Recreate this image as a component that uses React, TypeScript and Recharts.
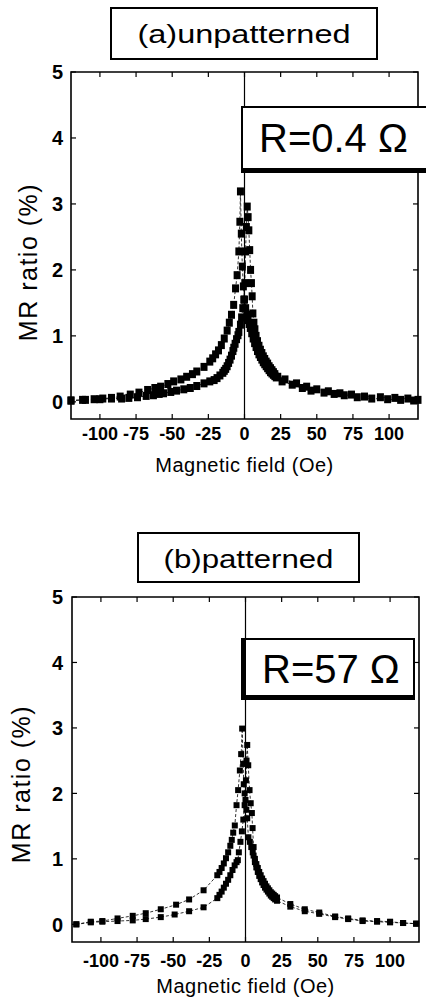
import { ScatterChart, Scatter, XAxis, YAxis, ReferenceLine, ReferenceArea } from "recharts";

const FONT = '"Liberation Sans", Arial, Helvetica, sans-serif';

// field ticks (Oe) and MR ticks (%)
const X_TICKS = [-100, -75, -50, -25, 0, 25, 50, 75, 100];
const Y_TICKS = [0, 1, 2, 3, 4, 5];

// (a) unpatterned, sweep peaking at negative field (upper branch on the left)
const A1_H = [-120, -112, -104, -98, -92, -86, -79, -73, -67, -62, -58, -53, -49, -44, -40, -36, -33, -28, -24, -22, -20, -18, -16, -14, -12, -10.5, -9, -7.5, -6.2, -5.1, -3.9, -3.2, -2.8, -2.2, -1.5, -0.8, 0, 0.8, 1.6, 2.4, 3.2, 4, 5, 6, 7, 8, 9, 10, 11, 12, 13, 14, 15, 16, 17, 18, 19, 20, 21, 22, 26, 33, 40, 46, 55, 62, 69, 78, 88, 99, 108, 117];
const A1_MR = [0.02, 0.03, 0.04, 0.05, 0.06, 0.08, 0.11, 0.14, 0.18, 0.21, 0.23, 0.27, 0.31, 0.34, 0.38, 0.42, 0.46, 0.53, 0.61, 0.66, 0.72, 0.78, 0.86, 0.96, 1.08, 1.2, 1.32, 1.47, 1.72, 1.92, 2.28, 2.73, 3.19, 2.55, 2.05, 1.75, 1.55, 1.42, 1.32, 1.24, 1.18, 1.12, 1.04, 0.96, 0.89, 0.83, 0.77, 0.72, 0.68, 0.64, 0.6, 0.57, 0.54, 0.51, 0.48, 0.45, 0.43, 0.41, 0.39, 0.37, 0.31, 0.26, 0.21, 0.17, 0.14, 0.12, 0.1, 0.07, 0.05, 0.04, 0.03, 0.02];

// (a) sweep peaking at positive field (lower branch on the left)
const A2_H = [-120, -110, -100, -92, -85, -80, -74, -68, -63, -59, -56, -51, -47, -42, -37.5, -33, -28, -24, -21, -19, -17, -15, -14, -13, -12, -11, -10, -9, -8, -7.4, -6.5, -5.5, -4.5, -3.9, -2.8, -2, -1.2, -0.5, 0.2, 0.7, 1.3, 1.9, 2.5, 3, 3.6, 4.2, 4.8, 5.3, 5.8, 6.5, 7.2, 8, 9, 10, 11, 12, 13, 14, 15, 16, 17, 18, 19, 20, 21, 23, 28, 36, 43, 50, 58, 66, 74, 83, 94, 104, 113, 120];
const A2_MR = [0.02, 0.03, 0.04, 0.05, 0.05, 0.06, 0.07, 0.09, 0.1, 0.12, 0.13, 0.15, 0.17, 0.19, 0.21, 0.24, 0.28, 0.31, 0.33, 0.36, 0.4, 0.44, 0.47, 0.5, 0.54, 0.59, 0.64, 0.7, 0.77, 0.82, 0.88, 0.95, 1.01, 1.06, 1.17, 1.28, 1.42, 1.55, 1.8, 2.28, 2.65, 2.96, 2.8, 2.6, 2.3, 2.0, 1.8, 1.6, 1.34, 1.2, 1.1, 1.0, 0.92, 0.85, 0.79, 0.74, 0.69, 0.65, 0.61, 0.58, 0.54, 0.51, 0.48, 0.45, 0.42, 0.38, 0.34, 0.28, 0.23, 0.19, 0.16, 0.13, 0.11, 0.08, 0.07, 0.06, 0.05, 0.03];

// (b) patterned
const B1_H = [-117, -107, -99, -88.5, -78, -69, -58.6, -48, -39, -29, -19.5, -18, -16.5, -15, -13.5, -12, -10.5, -9.5, -8.5, -7.4, -6.2, -5.1, -3.9, -3, -2.3, -1.6, -1.2, -0.6, 0, 0.6, 1.2, 2, 3, 4, 5, 5.6, 6.5, 7.5, 8.5, 9.5, 10.5, 11.5, 12.5, 13.5, 14.5, 15.5, 16.5, 17.5, 18.5, 19.5, 20.5, 21.8, 31, 41, 51, 62, 71, 81, 91, 100, 109, 118];
const B1_MR = [0.0, 0.04, 0.05, 0.09, 0.13, 0.17, 0.23, 0.3, 0.38, 0.52, 0.75, 0.8, 0.86, 0.93, 1.01, 1.1, 1.2, 1.29, 1.4, 1.51, 1.82, 2.05, 2.35, 2.6, 2.99, 2.45, 2.14, 2.0, 1.9, 1.75, 1.62, 1.33, 1.26, 1.18, 1.1, 1.05, 0.95, 0.87, 0.8, 0.74, 0.69, 0.64, 0.6, 0.56, 0.53, 0.5, 0.47, 0.44, 0.42, 0.4, 0.38, 0.36, 0.27, 0.2, 0.16, 0.11, 0.08, 0.05, 0.04, 0.03, 0.02, 0.01];

const B2_H = [-117, -107, -99, -88.5, -78, -69, -58.6, -49, -39, -29, -19.5, -18, -16.5, -15, -13.5, -12, -10.5, -9, -7.5, -6.2, -5.3, -4.6, -3.5, -2.5, -1.5, -0.6, 0.3, 0.7, 1.2, 1.9, 2.8, 3.6, 4.4, 4.9, 5.6, 6.5, 7.5, 8.5, 9.5, 10.5, 11.5, 12.5, 13.5, 14.5, 15.5, 16.5, 17.5, 18.5, 19.5, 20.5, 21.8, 31, 41, 51, 62, 71, 81, 91, 100, 109, 118];
const B2_MR = [0.0, 0.03, 0.04, 0.05, 0.06, 0.08, 0.11, 0.15, 0.2, 0.26, 0.4, 0.45, 0.5, 0.56, 0.62, 0.68, 0.75, 0.83, 0.9, 0.95, 0.98, 1.1, 1.26, 1.42, 1.6, 1.82, 2.2, 2.5, 2.74, 2.43, 2.05, 1.85, 1.7, 1.47, 1.18, 1.0, 0.92, 0.86, 0.8, 0.75, 0.7, 0.66, 0.62, 0.58, 0.55, 0.52, 0.49, 0.47, 0.45, 0.43, 0.41, 0.31, 0.23, 0.18, 0.12, 0.09, 0.06, 0.05, 0.04, 0.02, 0.01];

const zip = (h: number[], mr: number[]) => h.map((x, i) => ({ x, y: mr[i] }));

const lineStyle = { stroke: "#000", strokeWidth: 0.8, strokeDasharray: "3 2" };
const TICK_LEN = 5;

interface PanelProps {
  top: number;
  height: number;
  margin: { top: number; right: number; bottom: number; left: number };
  yAxisWidth: number;
  xAxisHeight: number;
  xTickMargin: number;
  yTickMargin: number;
  yMin: number;
  labelX: number;
  labelDy: number;
  mark: [number, number];
  series: { x: number; y: number }[][];
}

function Panel(p: PanelProps) {
  const [mw, mh] = p.mark;
  const plotTop = p.margin.top;
  const plotRight = 426 - p.margin.right;

  const square = (s: any) => (
    <rect x={s.cx - mw / 2} y={s.cy - mh / 2} width={mw} height={mh} fill="#000" />
  );

  // inward tick marks on bottom and top edges, label below
  const xTick = (t: any) => {
    const axisY = t.y - p.xTickMargin;
    return (
      <g>
        <line x1={t.x} y1={axisY} x2={t.x} y2={axisY - TICK_LEN} stroke="#000" strokeWidth={1.2} />
        <line x1={t.x} y1={plotTop} x2={t.x} y2={plotTop + TICK_LEN} stroke="#000" strokeWidth={1.2} />
        <text
          x={t.x}
          y={t.y}
          dy="0.71em"
          textAnchor="middle"
          fontSize={18}
          fontWeight={700}
          fontFamily={FONT}
          fill="#000"
        >
          {t.payload.value}
        </text>
      </g>
    );
  };

  // inward tick marks on left and right edges, label left
  const yTick = (t: any) => {
    const axisX = t.x + p.yTickMargin;
    return (
      <g>
        <line x1={axisX} y1={t.y} x2={axisX + TICK_LEN} y2={t.y} stroke="#000" strokeWidth={1.2} />
        <line x1={plotRight} y1={t.y} x2={plotRight - TICK_LEN} y2={t.y} stroke="#000" strokeWidth={1.2} />
        <text
          x={t.x}
          y={t.y}
          dy="0.36em"
          textAnchor="end"
          fontSize={20}
          fontWeight={700}
          fontFamily={FONT}
          fill="#000"
        >
          {t.payload.value}
        </text>
      </g>
    );
  };

  return (
    <div style={{ position: "absolute", left: 0, top: p.top }}>
      <ScatterChart width={426} height={p.height} margin={p.margin}>
        <XAxis
          xAxisId="b"
          type="number"
          dataKey="x"
          domain={[-120, 120]}
          ticks={X_TICKS}
          interval={0}
          height={p.xAxisHeight}
          axisLine={false}
          tickLine={false}
          tickSize={0}
          tickMargin={p.xTickMargin}
          tick={xTick}
          label={{
            content: (lp: any) => {
              const vb = lp.viewBox;
              return (
                <text
                  x={vb.x + vb.width / 2}
                  y={vb.y + vb.height}
                  textAnchor="middle"
                  fontSize={20}
                  letterSpacing={0.5}
                  fontFamily={FONT}
                  fill="#000"
                >
                  Magnetic field (Oe)
                </text>
              );
            },
          }}
        />
        <YAxis
          yAxisId="l"
          type="number"
          dataKey="y"
          domain={[p.yMin, 5]}
          ticks={Y_TICKS}
          interval={0}
          width={p.yAxisWidth}
          axisLine={false}
          tickLine={false}
          tickSize={0}
          tickMargin={p.yTickMargin}
          tick={yTick}
          label={{
            content: (lp: any) => {
              const vb = lp.viewBox;
              const cy = vb.y + vb.height / 2 + p.labelDy;
              return (
                <text
                  x={p.labelX}
                  y={cy}
                  transform={`rotate(-90 ${p.labelX} ${cy})`}
                  textAnchor="middle"
                  dominantBaseline="central"
                  fontSize={25}
                  letterSpacing={1.5}
                  fontFamily={FONT}
                  fill="#000"
                >
                  MR ratio (%)
                </text>
              );
            },
          }}
        />
        {/* plot frame */}
        <ReferenceArea
          xAxisId="b"
          yAxisId="l"
          x1={-120}
          x2={120}
          y1={p.yMin}
          y2={5}
          fill="none"
          fillOpacity={0}
          stroke="#000"
          strokeWidth={1.6}
          strokeOpacity={1}
        />
        <ReferenceLine xAxisId="b" yAxisId="l" x={0} stroke="#000" strokeWidth={1.2} />
        {p.series.map((d, i) => (
          <Scatter
            key={i}
            xAxisId="b"
            yAxisId="l"
            data={d}
            line={lineStyle}
            lineType="joint"
            shape={square}
            isAnimationActive={false}
          />
        ))}
      </ScatterChart>
    </div>
  );
}

export default function App() {
  return (
    <div
      style={{
        position: "absolute",
        left: 0,
        top: 0,
        width: 426,
        height: 1003,
        overflow: "hidden",
        background: "#fff",
        fontFamily: FONT,
      }}
    >
      <Panel
        top={0}
        height={500}
        margin={{ top: 72, right: 8, bottom: 28, left: 0 }}
        yAxisWidth={71}
        xAxisHeight={53}
        xTickMargin={8}
        yTickMargin={8}
        yMin={-0.26}
        labelX={27.5}
        labelDy={16.5}
        mark={[7, 8]}
        series={[zip(A1_H, A1_MR), zip(A2_H, A2_MR)]}
      />
      <Panel
        top={500}
        height={503}
        margin={{ top: 97, right: 7, bottom: 10, left: 0 }}
        yAxisWidth={72}
        xAxisHeight={51}
        xTickMargin={12}
        yTickMargin={9}
        yMin={-0.27}
        labelX={21}
        labelDy={14.5}
        mark={[6, 6]}
        series={[zip(B1_H, B1_MR), zip(B2_H, B2_MR)]}
      />

      {/* panel titles and resistance boxes */}
      <svg
        width={426}
        height={1003}
        style={{ position: "absolute", left: 0, top: 0, pointerEvents: "none" }}
        fontFamily={FONT}
      >
        <rect x={111} y={8} width={266} height={51} fill="#fff" stroke="#000" strokeWidth={2} />
        <text transform="translate(244,43) scale(1.25,1)" textAnchor="middle" fontSize={26} fill="#000">
          (a)unpatterned
        </text>

        <rect x={241} y={106} width={190} height={67} fill="#fff" />
        <line x1={241} y1={107} x2={426} y2={107} stroke="#000" strokeWidth={2} />
        <line x1={242} y1={106} x2={242} y2={173} stroke="#000" strokeWidth={2} />
        <rect x={241} y={168} width={190} height={5} fill="#000" />
        <text x={259} y={152} fontSize={40} fill="#000">
          R=0.4 Ω
        </text>

        <rect x={138} y={533} width={221} height={49} fill="#fff" stroke="#000" strokeWidth={2} />
        <text transform="translate(248.5,568) scale(1.2,1)" textAnchor="middle" fontSize={26} fill="#000">
          (b)patterned
        </text>

        <rect x={242} y={638} width={173} height={62} fill="#fff" />
        <line x1={242} y1={639} x2={415} y2={639} stroke="#000" strokeWidth={2} />
        <line x1={414} y1={638} x2={414} y2={700} stroke="#000" strokeWidth={2} />
        <rect x={241} y={638} width={5} height={62} fill="#000" />
        <rect x={241} y={695} width={174} height={5} fill="#000" />
        <text x={262} y={683} fontSize={40} fill="#000">
          R=57 Ω
        </text>
      </svg>
    </div>
  );
}
